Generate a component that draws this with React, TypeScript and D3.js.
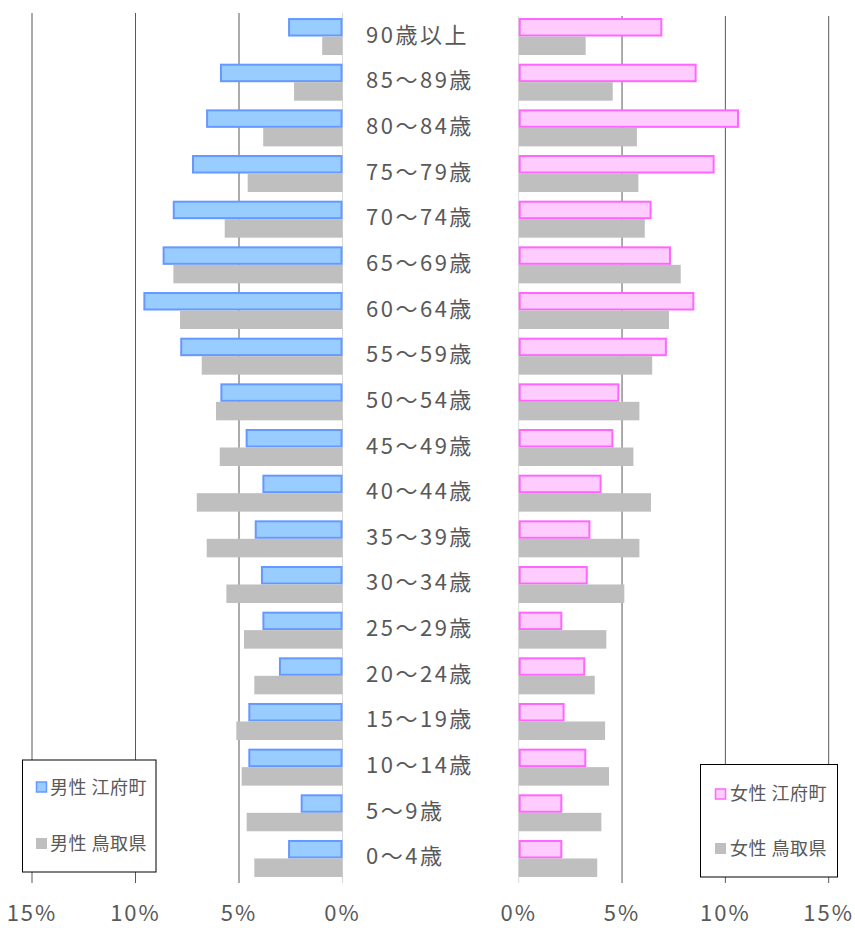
import React from "react";
import { scaleLinear, scaleBand } from "d3";

const ages = [
  "90歳以上", "85～89歳", "80～84歳", "75～79歳", "70～74歳", "65～69歳", "60～64歳",
  "55～59歳", "50～54歳", "45～49歳", "40～44歳", "35～39歳", "30～34歳", "25～29歳",
  "20～24歳", "15～19歳", "10～14歳", "5～9歳", "0～4歳",
];
const maleTown = [2.63, 5.92, 6.59, 7.27, 8.2, 8.69, 9.62, 7.84, 5.9, 4.68, 3.87, 4.24, 3.94, 3.87, 3.07, 4.55, 4.55, 2.02, 2.63];
const malePref = [0.98, 2.34, 3.83, 4.58, 5.69, 8.17, 7.85, 6.8, 6.11, 5.93, 7.04, 6.56, 5.61, 4.76, 4.26, 5.13, 4.87, 4.63, 4.26];
const femaleTown = [6.95, 8.61, 10.66, 9.48, 6.43, 7.37, 8.5, 7.17, 4.87, 4.58, 4.01, 3.47, 3.34, 2.11, 3.22, 2.22, 3.27, 2.11, 2.11];
const femalePref = [3.24, 4.55, 5.72, 5.79, 6.1, 7.84, 7.27, 6.46, 5.84, 5.55, 6.4, 5.84, 5.11, 4.24, 3.68, 4.18, 4.37, 4.0, 3.8];
const ticks = [0, 5, 10, 15];

const W = 855;
const H = 928;
const FONT = "'Noto Sans CJK JP', 'Noto Sans', sans-serif";
const TEXT = "#595959";

export default function App() {
  const xL = scaleLinear().domain([0, 15]).range([342.5, 32]);
  const xR = scaleLinear().domain([0, 15]).range([518.7, 828.7]);
  const y = scaleBand<string>().domain(ages).range([13.7, 881.3]).paddingInner(0.19).paddingOuter(0.095);
  const sub = scaleBand<number>().domain([0, 1]).range([0, y.bandwidth()]);
  const bh = sub.bandwidth();

  const left = [
    { vals: maleTown, fill: "#99CCFF", stroke: "#6699FF" },
    { vals: malePref, fill: "#BFBFBF", stroke: "none" },
  ];
  const right = [
    { vals: femaleTown, fill: "#FFCCFF", stroke: "#FF66FF" },
    { vals: femalePref, fill: "#BFBFBF", stroke: "none" },
  ];

  return (
    <svg width={W} height={H} style={{ position: "absolute", left: 0, top: 0, background: "#fff" }} fontFamily={FONT}>
      {/* gridlines */}
      {ticks.slice(1).map((t) => (
        <g key={"g" + t}>
          <line x1={xL(t)} x2={xL(t)} y1={13} y2={883} stroke="#595959" />
          <line x1={xR(t)} x2={xR(t)} y1={16} y2={883} stroke="#595959" />
        </g>
      ))}
      <line x1={xL(0)} x2={xL(0)} y1={13} y2={883} stroke="#D9D9D9" />
      <line x1={xR(0)} x2={xR(0)} y1={16} y2={883} stroke="#D9D9D9" />

      {/* left bars */}
      {left.map((s, si) =>
        s.vals.map((v, i) => {
          const y0 = (y(ages[i]) ?? 0) + (sub(si) ?? 0);
          const sw = s.stroke === "none" ? 0 : 2;
          return (
            <rect key={"l" + si + i} x={xL(v) + sw / 2} y={y0 + sw / 2} width={xL(0) - xL(v) - sw} height={bh - sw}
              fill={s.fill} stroke={s.stroke} strokeWidth={sw} />
          );
        })
      )}
      {/* right bars */}
      {right.map((s, si) =>
        s.vals.map((v, i) => {
          const y0 = (y(ages[i]) ?? 0) + (sub(si) ?? 0);
          const sw = s.stroke === "none" ? 0 : 2;
          return (
            <rect key={"r" + si + i} x={xR(0) + sw / 2} y={y0 + sw / 2} width={xR(v) - xR(0) - sw} height={bh - sw}
              fill={s.fill} stroke={s.stroke} strokeWidth={sw} />
          );
        })
      )}

      {/* category labels */}
      {ages.map((a) => (
        <text key={a} x={366} y={(y(a) ?? 0) + y.bandwidth() / 2 - 4} dominantBaseline="central" fontSize={22}
          letterSpacing={2.5} fill={TEXT}>
          {a}
        </text>
      ))}

      {/* axis labels */}
      {ticks.map((t) => (
        <g key={"t" + t}>
          <text x={xL(t)} y={921} textAnchor="middle" fontSize={22} letterSpacing={2} fill={TEXT}>{t}%</text>
          <text x={xR(t)} y={921} textAnchor="middle" fontSize={22} letterSpacing={2} fill={TEXT}>{t}%</text>
        </g>
      ))}

      {/* legends */}
      <g>
        <rect x={22.5} y={760} width={133.5} height={112} fill="#fff" stroke="#000" />
        <rect x={36.5} y={782} width={10} height={10} fill="#99CCFF" stroke="#6699FF" strokeWidth={1.5} />
        <text x={50} y={786} dominantBaseline="central" fontSize={18} letterSpacing={0.5} fill={TEXT}>男性 江府町</text>
        <rect x={36} y={838} width={11} height={11} fill="#BFBFBF" />
        <text x={50} y={842} dominantBaseline="central" fontSize={18} letterSpacing={0.5} fill={TEXT}>男性 鳥取県</text>
      </g>
      <g>
        <rect x={700.5} y={764.5} width={137} height={112.5} fill="#fff" stroke="#000" />
        <rect x={715.5} y={789} width={10} height={10} fill="#FFCCFF" stroke="#FF66FF" strokeWidth={1.5} />
        <text x={730} y={792} dominantBaseline="central" fontSize={18} letterSpacing={0.5} fill={TEXT}>女性 江府町</text>
        <rect x={715} y={843} width={11} height={11} fill="#BFBFBF" />
        <text x={730} y={847} dominantBaseline="central" fontSize={18} letterSpacing={0.5} fill={TEXT}>女性 鳥取県</text>
      </g>
    </svg>
  );
}
